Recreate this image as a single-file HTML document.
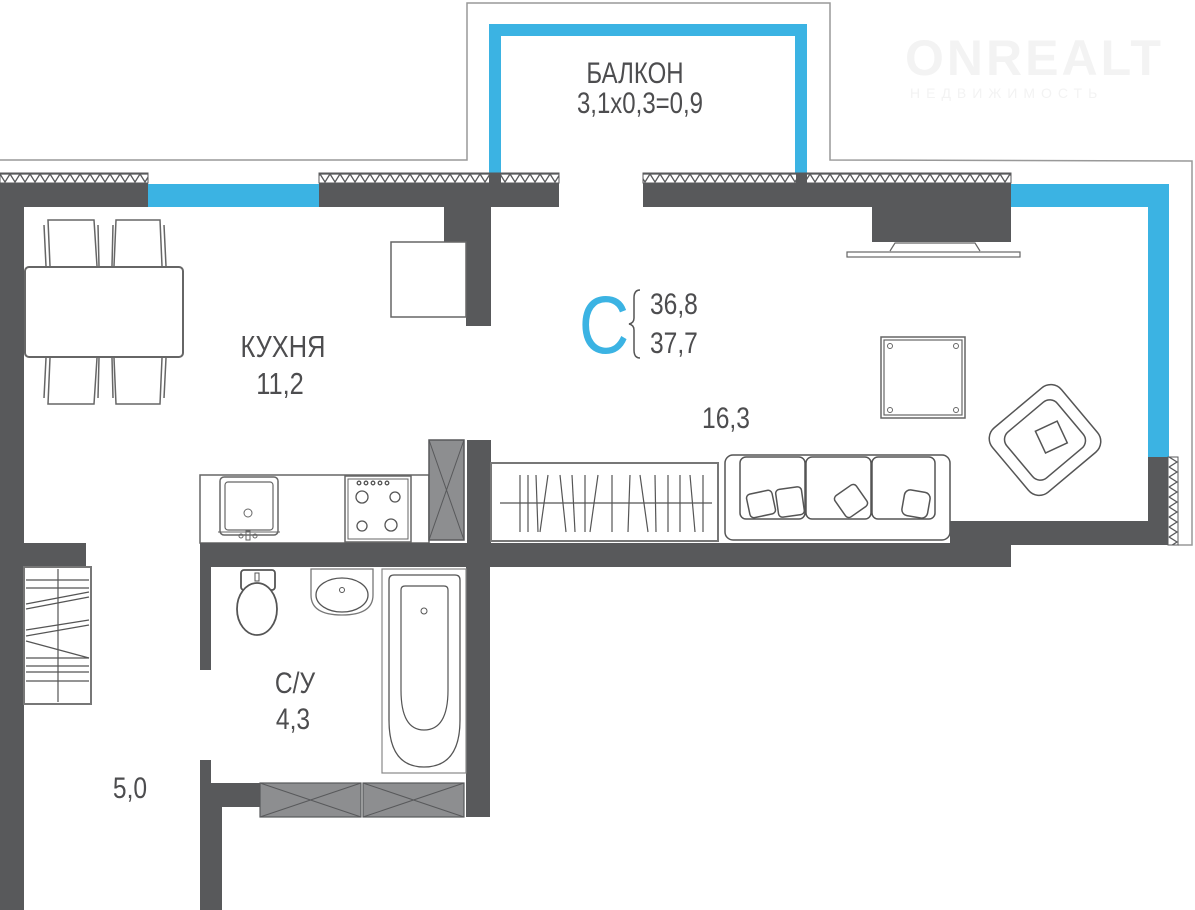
<!DOCTYPE html>
<html><head><meta charset="utf-8"><style>
html,body{margin:0;padding:0;background:#fff;}
svg{display:block;}
text{font-family:"Liberation Sans",sans-serif;fill:#4d4d4f;}
</style></head><body>
<svg width="1195" height="910" viewBox="0 0 1195 910" xmlns="http://www.w3.org/2000/svg">
<defs>
<pattern id="hat" x="0" y="173" width="10" height="10" patternUnits="userSpaceOnUse">
<rect width="10" height="10" fill="#fff"/>
<path d="M0 1 L5 9 L10 1 Z" fill="none" stroke="#58595b" stroke-width="1.3"/>
</pattern>
<pattern id="hatv" x="1168" y="457" width="10" height="10" patternUnits="userSpaceOnUse">
<rect width="10" height="10" fill="#fff"/>
<path d="M1 0 L9 5 L1 10" fill="none" stroke="#58595b" stroke-width="1.3"/>
</pattern>
</defs>

<!-- watermark -->
<text x="905" y="75" font-size="50" font-weight="bold" style="fill:#f3f3f3" letter-spacing="3">ONREALT</text>
<text x="910" y="98" font-size="14" style="fill:#f3f3f3" letter-spacing="6">НЕДВИЖИМОСТЬ</text>

<!-- outer thin outline -->
<polyline points="0,160 467,160 467,3 830,3 830,160 1192,161 1192,545 1178,545" fill="none" stroke="#999" stroke-width="1.5"/>

<!-- balcony blue -->
<rect x="489" y="24" width="317" height="12" fill="#3bb3e3"/>
<rect x="489" y="24" width="12" height="160" fill="#3bb3e3"/>
<rect x="795" y="24" width="12" height="160" fill="#3bb3e3"/>

<!-- top walls -->
<rect x="0" y="173" width="148" height="10" fill="url(#hat)" stroke="#58595b" stroke-width="1"/>
<rect x="0" y="183" width="148" height="24" fill="#58595b"/>
<rect x="148" y="184" width="171" height="23" fill="#3bb3e3"/>
<rect x="319" y="173" width="240" height="10" fill="url(#hat)" stroke="#58595b" stroke-width="1"/>
<rect x="319" y="183" width="240" height="24" fill="#58595b"/>
<rect x="489" y="173" width="12" height="10" fill="#58595b"/>
<rect x="643" y="173" width="368" height="10" fill="url(#hat)" stroke="#58595b" stroke-width="1"/>
<rect x="643" y="183" width="368" height="24" fill="#58595b"/>
<rect x="796" y="173" width="11" height="10" fill="#58595b"/>
<rect x="1011" y="184" width="158" height="23" fill="#3bb3e3"/>
<rect x="1148" y="184" width="21" height="273" fill="#3bb3e3"/>
<rect x="1148" y="457" width="20" height="88" fill="#58595b"/>
<rect x="1168" y="457" width="10" height="88" fill="url(#hatv)" stroke="#58595b" stroke-width="1"/>

<!-- left wall -->
<rect x="0" y="183" width="24" height="727" fill="#58595b"/>
<rect x="24" y="543" width="62" height="24" fill="#58595b"/>

<!-- kitchen column and fridge -->
<rect x="444" y="207" width="47" height="35" fill="#58595b"/>
<rect x="466" y="207" width="25" height="119" fill="#58595b"/>
<rect x="391" y="242" width="75" height="75" fill="#fff" stroke="#666" stroke-width="1.5"/>

<!-- TV wall block -->
<rect x="872" y="207" width="139" height="35" fill="#58595b"/>
<path d="M890 251 L895 243 L975 243 L980 251" fill="none" stroke="#666" stroke-width="1.2"/>
<rect x="847" y="252" width="173" height="5" fill="#fff" stroke="#666" stroke-width="1.2"/>

<!-- table & chairs -->
<rect x="25" y="267" width="158" height="90" rx="4" fill="#fff" stroke="#666" stroke-width="2"/>
<g fill="#fff" stroke="#666" stroke-width="1.5">
<path d="M50 266 L48 220 L94 220 L97 266"/><path d="M46 266 L44 225"/><path d="M99 266 L98 225"/>
<path d="M114 266 L116 220 L160 220 L162 266"/><path d="M112 266 L113 225"/><path d="M166 266 L164 225"/>
<path d="M50 358 L48 404 L94 404 L97 358"/><path d="M46 358 L44 398"/><path d="M99 358 L98 398"/>
<path d="M114 358 L116 404 L160 404 L162 358"/><path d="M112 358 L113 398"/><path d="M166 358 L164 398"/>
</g>

<!-- labels -->
<text x="283" y="357" font-size="31" text-anchor="middle" transform="translate(283 0) scale(0.82 1) translate(-283 0)">КУХНЯ</text>
<text x="280" y="394" font-size="31" text-anchor="middle" transform="translate(280 0) scale(0.82 1) translate(-280 0)">11,2</text>
<text x="640" y="113" font-size="30" text-anchor="middle" transform="translate(640 0) scale(0.8 1) translate(-640 0)">3,1x0,3=0,9</text>
<text x="635" y="83" font-size="30" text-anchor="middle" transform="translate(635 0) scale(0.8 1) translate(-635 0)">БАЛКОН</text>
<text x="604" y="353" font-size="82" text-anchor="middle" style="fill:#3bb3e3" transform="translate(604 0) scale(0.85 1) translate(-604 0)">С</text>
<path d="M640 290 Q634 290 634 298 L634 318 Q634 323 629 324 Q634 325 634 330 L634 350 Q634 358 640 358" fill="none" stroke="#555" stroke-width="1.5"/>
<text x="650" y="314" font-size="30" transform="translate(650 0) scale(0.82 1) translate(-650 0)">36,8</text>
<text x="650" y="353" font-size="30" transform="translate(650 0) scale(0.82 1) translate(-650 0)">37,7</text>
<text x="726" y="428" font-size="30" text-anchor="middle" transform="translate(726 0) scale(0.82 1) translate(-726 0)">16,3</text>
<text x="295" y="693" font-size="30" text-anchor="middle" transform="translate(295 0) scale(0.82 1) translate(-295 0)">С/У</text>
<text x="293" y="729" font-size="30" text-anchor="middle" transform="translate(293 0) scale(0.82 1) translate(-293 0)">4,3</text>
<text x="130" y="798" font-size="30" text-anchor="middle" transform="translate(130 0) scale(0.82 1) translate(-130 0)">5,0</text>

<!-- coffee table -->
<rect x="881" y="337" width="84" height="81" fill="#fff" stroke="#666" stroke-width="1.5"/>
<rect x="884" y="340" width="78" height="75" fill="none" stroke="#666" stroke-width="1.2"/>
<g fill="none" stroke="#666" stroke-width="1"><circle cx="890" cy="346" r="2.5"/><circle cx="956" cy="346" r="2.5"/><circle cx="890" cy="410" r="2.5"/><circle cx="956" cy="410" r="2.5"/></g>

<!-- armchair -->
<g transform="translate(1045 440) rotate(-40)" fill="#fff" stroke="#555" stroke-width="1.5">
<rect x="-45" y="-42" width="90" height="84" rx="14"/>
<rect x="-33" y="-30" width="66" height="60" rx="10"/>
<rect x="-5" y="-12" width="24" height="24" transform="rotate(15)"/>
</g>

<!-- kitchen counter -->
<rect x="200" y="475" width="229" height="68" fill="#fff" stroke="#666" stroke-width="1.5"/>
<rect x="220" y="477" width="58" height="58" rx="4" fill="#fff" stroke="#666" stroke-width="1.5"/>
<rect x="225" y="482" width="48" height="48" rx="3" fill="none" stroke="#666" stroke-width="1.2"/>
<circle cx="248" cy="513" r="4" fill="none" stroke="#666"/>
<line x1="218" y1="532" x2="280" y2="532" stroke="#666"/>
<circle cx="241" cy="536" r="2" fill="none" stroke="#666"/><circle cx="255" cy="536" r="2" fill="none" stroke="#666"/><rect x="246" y="531" width="4" height="9" fill="none" stroke="#666"/>
<rect x="345" y="476" width="66" height="66" fill="#fff" stroke="#666" stroke-width="1.5"/>
<rect x="348" y="479" width="60" height="60" fill="none" stroke="#666" stroke-width="1"/>
<g fill="none" stroke="#555" stroke-width="1.3">
<circle cx="362" cy="497" r="6"/><circle cx="395" cy="497" r="5"/><circle cx="362" cy="526" r="5"/><circle cx="391" cy="525" r="6"/>
<circle cx="359" cy="483" r="1.8"/><circle cx="366" cy="483" r="1.8"/><circle cx="373" cy="483" r="1.8"/><circle cx="380" cy="483" r="1.8"/><circle cx="387" cy="483" r="1.8"/>
</g>
<rect x="429" y="440" width="35" height="100" fill="#8d8e90" stroke="#58595b" stroke-width="1.5"/>
<path d="M429 440 L464 540 M464 440 L429 540" stroke="#58595b" stroke-width="1"/>
<rect x="467" y="440" width="24" height="127" fill="#58595b"/>

<!-- wardrobe -->
<rect x="491" y="463" width="227" height="78" fill="#fff" stroke="#777" stroke-width="2"/>
<g stroke="#555" stroke-width="1.2">
<line x1="500" y1="503" x2="712" y2="503"/>
<line x1="520" y1="475" x2="520" y2="532"/><line x1="528" y1="475" x2="528" y2="532"/><line x1="536" y1="475" x2="538" y2="532"/>
<line x1="548" y1="475" x2="540" y2="532"/><line x1="560" y1="475" x2="566" y2="532"/><line x1="572" y1="475" x2="575" y2="532"/>
<line x1="585" y1="475" x2="585" y2="532"/><line x1="598" y1="475" x2="590" y2="532"/><line x1="612" y1="475" x2="612" y2="532"/>
<line x1="630" y1="475" x2="628" y2="532"/><line x1="640" y1="475" x2="648" y2="532"/><line x1="655" y1="475" x2="656" y2="532"/>
<line x1="668" y1="475" x2="668" y2="532"/><line x1="680" y1="475" x2="680" y2="532"/><line x1="690" y1="475" x2="695" y2="532"/><line x1="703" y1="475" x2="703" y2="532"/>
</g>

<!-- sofa -->
<g fill="#fff" stroke="#555" stroke-width="1.5">
<rect x="725" y="455" width="225" height="85" rx="8"/>
<rect x="740" y="457" width="65" height="62" rx="6"/>
<rect x="806" y="457" width="65" height="62" rx="6"/>
<rect x="872" y="457" width="63" height="62" rx="6"/>
<rect x="748" y="492" width="26" height="24" rx="4" transform="rotate(-12 761 504)"/>
<rect x="777" y="488" width="26" height="28" rx="4" transform="rotate(-8 790 502)"/>
<rect x="838" y="488" width="26" height="26" rx="4" transform="rotate(-35 851 501)"/>
<rect x="903" y="491" width="26" height="26" rx="6" transform="rotate(10 916 504)"/>
</g>

<!-- bottom walls -->
<rect x="200" y="543" width="811" height="24" fill="#58595b"/>
<rect x="950" y="521" width="218" height="24" fill="#58595b"/>

<!-- closet left -->
<rect x="24" y="567" width="67" height="137" fill="#fff" stroke="#777" stroke-width="2"/>
<g stroke="#555" stroke-width="1.2">
<line x1="58" y1="569" x2="58" y2="702"/>
<line x1="26" y1="580" x2="89" y2="580"/><line x1="26" y1="588" x2="89" y2="588"/>
<line x1="26" y1="604" x2="89" y2="592"/><line x1="26" y1="609" x2="89" y2="597"/>
<line x1="26" y1="630" x2="89" y2="620"/><line x1="26" y1="636" x2="89" y2="625"/>
<line x1="26" y1="641" x2="89" y2="658"/>
<line x1="26" y1="658" x2="89" y2="658"/><line x1="26" y1="666" x2="89" y2="666"/><line x1="26" y1="672" x2="89" y2="672"/><line x1="26" y1="681" x2="89" y2="681"/>
</g>

<!-- bathroom walls -->
<rect x="200" y="567" width="11" height="103" fill="#58595b"/>
<rect x="200" y="760" width="11" height="150" fill="#58595b"/>
<rect x="200" y="783" width="22" height="127" fill="#58595b"/>
<rect x="211" y="783" width="50" height="24" fill="#58595b"/>
<rect x="466" y="567" width="24" height="250" fill="#58595b"/>
<g fill="#8d8e90" stroke="#58595b" stroke-width="1.2">
<rect x="260" y="783" width="101" height="34"/><rect x="363" y="783" width="101" height="34"/>
</g>
<path d="M260 783 L361 817 M361 783 L260 817 M363 783 L464 817 M464 783 L363 817" stroke="#58595b"/>

<!-- toilet -->
<g fill="#fff" stroke="#555" stroke-width="1.8">
<rect x="241" y="570" width="34" height="20" rx="3"/>
<ellipse cx="257" cy="609" rx="20" ry="26"/>
</g>
<rect x="255" y="573" width="4" height="8" fill="none" stroke="#555"/>
<!-- sink -->
<path d="M311 569 L373 569 L373 595 Q373 615 342 615 Q311 615 311 595 Z" fill="#fff" stroke="#777" stroke-width="1.3"/>
<ellipse cx="342" cy="595" rx="26" ry="17" fill="none" stroke="#555" stroke-width="1.3"/>
<circle cx="342" cy="590" r="2.5" fill="none" stroke="#555"/>
<!-- bath -->
<rect x="382" y="569" width="84" height="204" fill="#fff" stroke="#888" stroke-width="1.2"/>
<path d="M389 580 Q389 575 394 575 L455 575 Q460 575 460 580 L460 720 Q460 767 424 767 Q389 767 389 720 Z" fill="none" stroke="#555" stroke-width="1.3"/>
<path d="M401 590 Q401 586 405 586 L444 586 Q448 586 448 590 L448 690 Q448 730 424 730 Q401 730 401 690 Z" fill="none" stroke="#555" stroke-width="1.2"/>
<circle cx="424" cy="611" r="3" fill="none" stroke="#555"/>
</svg>
</body></html>
